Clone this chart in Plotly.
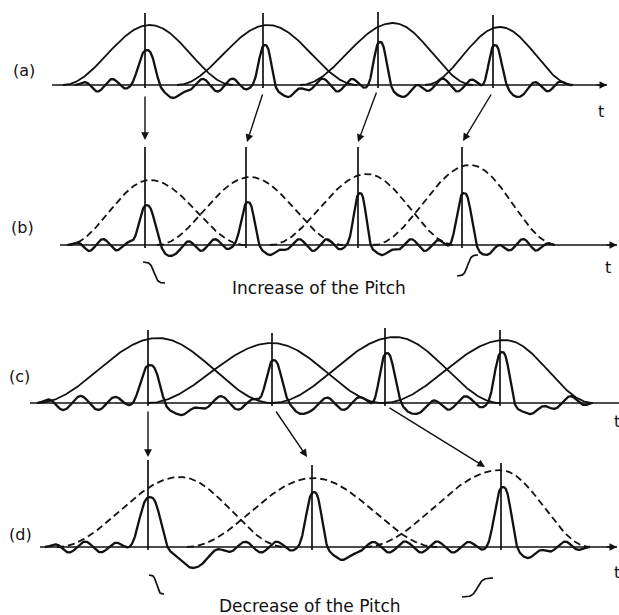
import numpy as np
import plotly.graph_objects as go

# Pitch-synchronous overlap-add sketch: (a)/(c) analysis, (b)/(d) synthesis.
# All values are pixel positions (y grows downwards).

row_names = ["(a)", "(b)", "(c)", "(d)"]
label_x = [24, 22, 19, 20]
label_y = [70, 227, 376, 534]

base_y = [85, 245, 403, 547]
axis_x0 = [52, 60, 30, 40]
axis_x1 = [607, 617, 619, 617]
t_x = [601, 608, 617, 617]
t_y = [111, 267, 421, 572]

# pitch marks
marks = [
    [145, 263, 378, 493],
    [145, 246, 358, 462],
    [148, 272, 385, 500],
    [148, 312, 501],
]
mark_top = [
    [13, 13, 12, 15],
    [147, 147, 147, 147],
    [330, 333, 328, 330],
    [460, 465, 463],
]

# glottal pulses
pulse_h = [
    [35, 40, 43, 40],
    [40, 43, 52, 52],
    [38, 43, 50, 51],
    [50, 55, 60],
]
pulse_w = [
    [8, 6, 6, 6],
    [7.5, 6.5, 6, 7],
    [9, 7.5, 7, 7],
    [10, 7.5, 8],
]
dip_depth = [[13, 12, 12, 12], [11, 10, 10, 10], [12, 11, 11, 11], [21, 13, 11]]
dip_off = [[28, 25, 25, 25], [25, 24, 24, 24], [33, 30, 30, 30], [45, 30, 27]]
ripple_amp = [6.5, 6, 7, 5.5]
ripple_per = [30, 28, 35, 32]
sig_x0 = [75, 68, 37, 45]
sig_x1 = [572, 555, 592, 590]

# windows
win_left = [[63, 177, 300, 425], [67, 157, 270, 373], [37, 148, 272, 383], [57, 187, 365]]
win_peak = [[150, 268, 393, 500], [150, 250, 367, 470], [158, 272, 395, 505], [180, 313, 500]]
win_right = [[233, 357, 473, 573], [245, 343, 455, 557], [272, 383, 500, 593], [285, 437, 590]]
win_top = [[25, 25, 23, 27], [180, 177, 174, 165], [338, 343, 337, 340], [477, 478, 470]]
win_dash = [False, True, False, True]

# arrows from analysis marks to synthesis marks
arrow_tail_x = [145, 263, 377, 492, 148, 275, 388]
arrow_tail_y = [95, 93, 91, 93, 410, 410, 407]
arrow_head_x = [145, 247, 358, 463, 148, 307, 485]
arrow_head_y = [140, 142, 142, 141, 457, 457, 467]

# small tilde marks under rows (b) and (d)
squig_x0 = [143, 457, 149, 462]
squig_x1 = [165, 478, 164, 493]
squig_y0 = [262, 276, 575, 597]
squig_y1 = [283, 255, 594, 578]

captions = ["Increase of the Pitch", "Decrease of the Pitch"]
caption_x = [319, 310]
caption_y = [288, 606]

INK = "#111111"
FONT = "DejaVu Sans"

fig = go.Figure()


def add_line(x, y, width=2.0, dash="solid"):
    fig.add_trace(go.Scatter(x=x, y=y, mode="lines", hoverinfo="skip",
                             line=dict(color=INK, width=width, dash=dash)))


for r in range(4):
    b = base_y[r]
    # time axis
    add_line([axis_x0[r], axis_x1[r]], [b, b], width=1.5)

    # windows
    for l, px, rr, py in zip(win_left[r], win_peak[r], win_right[r], win_top[r]):
        x = np.linspace(l, rr, 220)
        u = np.where(x < px, (x - l) / (px - l), (rr - x) / (rr - px))
        y = b - (b - py) * (0.5 - 0.5 * np.cos(np.pi * u))
        add_line(x, y, width=1.8, dash="7px,4px" if win_dash[r] else "solid")

    # signal
    x = np.linspace(sig_x0[r], sig_x1[r], 1600)
    y = np.zeros_like(x)
    near = np.zeros_like(x)
    for c, h, w, dd, do in zip(marks[r], pulse_h[r], pulse_w[r], dip_depth[r], dip_off[r]):
        y += h * np.exp(-0.5 * np.abs((x - c - 2) / w) ** 2.6)
        y -= dd * np.exp(-0.5 * ((x - c - do) / (do * 0.3)) ** 2)
        near = np.maximum(near, np.exp(-0.5 * ((x - c) / (w * 1.8)) ** 2))
        near = np.maximum(near, np.exp(-0.5 * ((x - c - do) / (do * 0.45)) ** 2))
    ramp = np.clip((x - sig_x0[r]) / 20, 0, 1) * np.clip((sig_x1[r] - x) / 20, 0, 1)
    y += ripple_amp[r] * np.sin(2 * np.pi * (x - sig_x0[r]) / ripple_per[r]) * (1 - near) * ramp
    add_line(x, b - y, width=2.3)

    # pitch marks
    for c, top in zip(marks[r], mark_top[r]):
        add_line([c, c], [top, b + 3], width=1.7)

    fig.add_annotation(x=label_x[r], y=label_y[r], text=row_names[r], showarrow=False,
                       font=dict(family=FONT, size=16, color=INK))
    fig.add_annotation(x=t_x[r], y=t_y[r], text="t", showarrow=False,
                       font=dict(family=FONT, size=16, color=INK))
    if r != 2:
        fig.add_annotation(x=axis_x1[r], y=b, ax=axis_x1[r] - 12, ay=b, axref="x", ayref="y",
                           text="", showarrow=True, arrowhead=2, arrowsize=1,
                           arrowwidth=1.5, arrowcolor=INK, standoff=0)

for tx, ty, hx, hy in zip(arrow_tail_x, arrow_tail_y, arrow_head_x, arrow_head_y):
    fig.add_annotation(x=hx, y=hy, ax=tx, ay=ty, axref="x", ayref="y", text="",
                       showarrow=True, arrowhead=2, arrowsize=1.1, arrowwidth=1.4,
                       arrowcolor=INK, standoff=0)

for x0, x1, y0, y1 in zip(squig_x0, squig_x1, squig_y0, squig_y1):
    u = np.linspace(0, 1, 60)
    s = 0.5 + 0.5 * np.tanh(6 * (u - 0.5)) / np.tanh(3)
    add_line(x0 + (x1 - x0) * u, y0 + (y1 - y0) * s, width=1.7)

for txt, cx, cy in zip(captions, caption_x, caption_y):
    fig.add_annotation(x=cx, y=cy, text=txt, showarrow=False,
                       font=dict(family=FONT, size=17, color=INK))

fig.update_layout(
    width=619, height=615, showlegend=False,
    margin=dict(l=0, r=0, t=0, b=0),
    paper_bgcolor="white", plot_bgcolor="white",
    xaxis=dict(range=[0, 619], visible=False, fixedrange=True),
    yaxis=dict(range=[615, 0], visible=False, fixedrange=True),
)

fig.write_html("out.html", config={"displayModeBar": False},
               post_script="document.body.style.margin='0';")
